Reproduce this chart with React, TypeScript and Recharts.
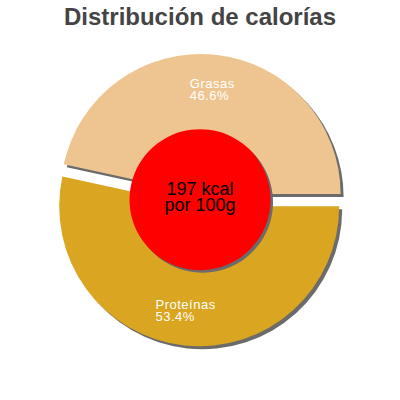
import React from "react";
import { PieChart, Pie, Cell } from "recharts";

const titleText = "Distribución de calorías";
const categories = ["Grasas", "Proteínas"];
const percentages = [46.6, 53.4];
const centerLines = ["197 kcal", "por 100g"];

const sliceColors = ["#EEC591", "#DAA520"];
const shadowColor = "#6b6b6b";
const centerColor = "#FF0000";

const data = categories.map((name, i) => ({ name, value: percentages[i] }));
const centerData = [{ name: "kcal", value: 1 }];

const RAD = Math.PI / 180;
const OUTER = 140;
const CENTERS = [
  { cx: 200.6, cy: 194 },
  { cx: 199.2, cy: 206.3 },
];
const SHADOW_DX = 3;
const SHADOW_DY = 3;

const labelStyle = { fontFamily: "'Liberation Sans', Arial, sans-serif", fontSize: 13, letterSpacing: 0.5 };
const centerStyle = { fontFamily: "'Liberation Sans', Arial, sans-serif", fontSize: 18 };

const makeLabel = (visibleIndex: number) => (props: any) => {
  const { cx, cy, midAngle, outerRadius, index, name, value } = props;
  if (index !== visibleIndex) return null;
  const r = outerRadius * 0.75;
  const px = cx + r * Math.cos(-midAngle * RAD);
  const py = cy + r * Math.sin(-midAngle * RAD);
  const x = px - String(name).length * 3.5 - 1;
  return (
    <g>
      <text x={x} y={py - 2} fill="#ffffff" textAnchor="start" style={labelStyle}>
        {name}
      </text>
      <text x={x} y={py + 10} fill="#ffffff" textAnchor="start" style={labelStyle}>
        {`${Number(value).toFixed(1)}%`}
      </text>
    </g>
  );
};

const centerLabel = (props: any) => {
  const { cx, cy } = props;
  return (
    <g>
      <text x={cx} y={cy - 5} fill="#000000" textAnchor="middle" style={centerStyle}>
        {centerLines[0]}
      </text>
      <text x={cx} y={cy + 11.5} fill="#000000" textAnchor="middle" style={centerStyle}>
        {centerLines[1]}
      </text>
    </g>
  );
};

export default function App() {
  return (
    <div style={{ position: "absolute", left: 0, top: 0, width: 400, height: 400, background: "#fff" }}>
      <div
        style={{
          position: "absolute",
          left: 0,
          top: 0,
          width: 400,
          textAlign: "center",
          fontFamily: "'Liberation Sans', Arial, sans-serif",
          fontWeight: "bold",
          fontSize: 24,
          lineHeight: "34px",
          color: "#444444",
          zIndex: 2,
        }}
      >
        {titleText}
      </div>
      <PieChart width={400} height={400} margin={{ top: 0, right: 0, bottom: 0, left: 0 }}>
        {CENTERS.map((c, k) => (
          <Pie
            key={`sh-${k}`}
            data={data}
            dataKey="value"
            nameKey="name"
            cx={c.cx + SHADOW_DX}
            cy={c.cy + SHADOW_DY}
            innerRadius={0}
            outerRadius={OUTER}
            startAngle={0}
            endAngle={360}
            stroke="none"
            isAnimationActive={false}
            label={false}
            labelLine={false}
          >
            {data.map((d, i) => (
              <Cell key={d.name} fill={i === k ? shadowColor : "none"} stroke="none" />
            ))}
          </Pie>
        ))}
        {CENTERS.map((c, k) => (
          <Pie
            key={`sl-${k}`}
            data={data}
            dataKey="value"
            nameKey="name"
            cx={c.cx}
            cy={c.cy}
            innerRadius={0}
            outerRadius={OUTER}
            startAngle={0}
            endAngle={360}
            stroke="none"
            isAnimationActive={false}
            label={makeLabel(k)}
            labelLine={false}
          >
            {data.map((d, i) => (
              <Cell key={d.name} fill={i === k ? sliceColors[i] : "none"} stroke="none" />
            ))}
          </Pie>
        ))}
        <Pie
          data={centerData}
          dataKey="value"
          cx={200 + 2.5}
          cy={199.7 + 2.5}
          innerRadius={0}
          outerRadius={70.5}
          fill={shadowColor}
          stroke="none"
          isAnimationActive={false}
          label={false}
          labelLine={false}
        />
        <Pie
          data={centerData}
          dataKey="value"
          cx={200}
          cy={199.7}
          innerRadius={0}
          outerRadius={70.5}
          fill={centerColor}
          stroke="none"
          isAnimationActive={false}
          label={centerLabel}
          labelLine={false}
        />
      </PieChart>
    </div>
  );
}
